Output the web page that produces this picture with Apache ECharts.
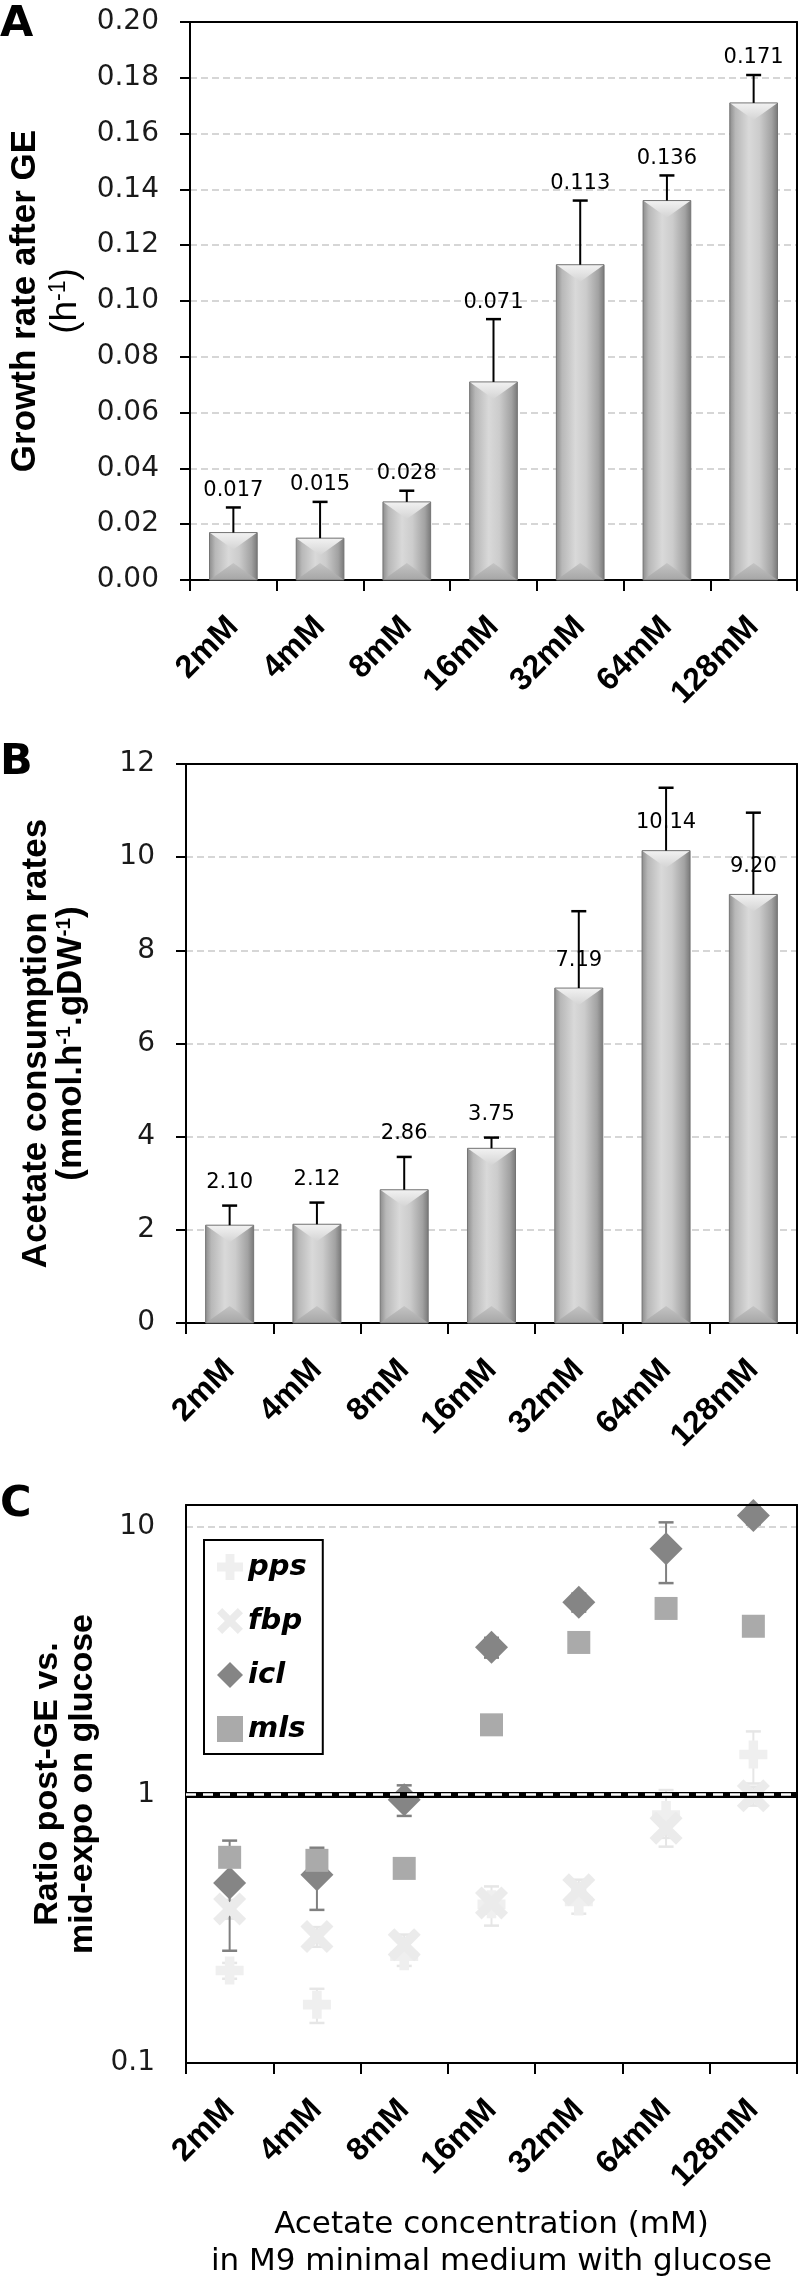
<!DOCTYPE html>
<html>
<head>
<meta charset="utf-8">
<script src="https://cdn.jsdelivr.net/npm/echarts@6/dist/echarts.min.js"></script>
<style>
html,body{margin:0;padding:0;background:#fff;}
#chart{width:800px;height:2281px;}
</style>
</head>
<body>
<div id="chart"></div>
<script>
// ---------------- DATA ----------------
const categories = ['2mM', '4mM', '8mM', '16mM', '32mM', '64mM', '128mM'];

// Panel A: growth rate after GE (h-1)
const growthRate = [0.017, 0.015, 0.028, 0.071, 0.113, 0.136, 0.171];
const growthErr  = [0.009, 0.013, 0.004, 0.0225, 0.023, 0.009, 0.010];

// Panel B: acetate consumption rates (mmol.h-1.gDW-1)
const acetateRate = [2.10, 2.12, 2.86, 3.75, 7.19, 10.14, 9.20];
const acetateErr  = [0.42, 0.465, 0.705, 0.23, 1.65, 1.35, 1.755];
const acetateLabelOnBar = [false, false, false, false, true, true, true];

// Panel C: ratio post-GE vs mid-expo on glucose (log scale)
const ppsRatio = [0.221, 0.165, 0.25, 0.39, 0.40, 0.84, 1.41];
const ppsErr   = [0.015, 0.024, 0.02, 0.065, 0.04, 0.20, 0.31];
const fbpRatio = [0.375, 0.296, 0.276, 0.395, 0.442, 0.75, 0.99];
const fbpErr   = [0.03, 0.025, 0.025, 0.035, 0.04, 0.06, 0.08];
const iclRatio = [0.468, 0.503, 0.958, 3.54, 5.21, 8.24, 10.96];
const iclErr   = [0.206, 0.131, 0.125, 0.30, 0.40, 2.10, 0.80];
const mlsRatio = [0.584, 0.569, 0.531, 1.82, 3.69, 4.94, 4.24];
const mlsErr   = [0.04, 0.04, 0.04, 0.12, 0.25, 0.35, 0.30];

// axis ranges
const growthAxis = { min: 0, max: 0.2, interval: 0.02 };
const acetateAxis = { min: 0, max: 12, interval: 2 };
const ratioAxis = { min: 0.1, max: 12 };

// ---------------- STYLE ----------------
const GRID_LEFT = 186, GRID_W = 611;
const grids = [
  { left: GRID_LEFT, width: GRID_W, top: 22, height: 558 },
  { left: GRID_LEFT, width: GRID_W, top: 764, height: 559 },
  { left: GRID_LEFT, width: GRID_W, top: 1505, height: 558 }
];
const tickFont = { fontFamily: 'DejaVu Sans', fontSize: 28, color: '#1a1a1a' };
const catLabel = { rotate: 45, margin: 42, interval: 0, fontFamily: 'Liberation Sans', fontWeight: 'bold', fontSize: 32, color: '#000' };
const gridLine = { show: true, lineStyle: { color: '#d6d6d6', width: 2, type: [7, 4] } };
const blackLine = { color: '#000', width: 2 };

const plusPath = 'path://M3.3,0H6.7V3.3H10V6.7H6.7V10H3.3V6.7H0V3.3H3.3Z';
const crossPath = 'path://M0,2L2,0L5,3L8,0L10,2L7,5L10,8L8,10L5,7L2,10L0,8L3,5Z';

function cylGrad() {
  return new echarts.graphic.LinearGradient(0, 0, 1, 0, [
    { offset: 0, color: '#8e8e8e' },
    { offset: 0.12, color: '#b8b8b8' },
    { offset: 0.4, color: '#d9d9d9' },
    { offset: 0.62, color: '#cccccc' },
    { offset: 0.88, color: '#a2a2a2' },
    { offset: 1, color: '#7a7a7a' }
  ]);
}

function bevelBar(params, api) {
  const i = api.value(0), v = api.value(1);
  const top = api.coord([i, v]);
  const base = api.coord([i, 0]);
  const bw = api.size([1, 0])[0] * 0.55;
  const cx = top[0];
  const L = cx - bw / 2, R = cx + bw / 2, T = top[1], B = base[1];
  const h = B - T;
  const d = Math.min(17, h / 2);
  return {
    type: 'group',
    children: [
      { type: 'rect', shape: { x: L, y: T, width: bw, height: h }, style: { fill: cylGrad() } },
      { type: 'polygon', shape: { points: [[L, T], [R, T], [cx, T + d]] },
        style: { fill: new echarts.graphic.LinearGradient(0, 0, 0, 1, [{ offset: 0, color: '#f2f2f2' }, { offset: 1, color: '#d4d4d4' }]) } },
      { type: 'polygon', shape: { points: [[L, B], [R, B], [cx, B - d]] },
        style: { fill: new echarts.graphic.LinearGradient(0, 0, 0, 1, [{ offset: 0, color: '#c4c4c4' }, { offset: 1, color: '#a6a6a6' }]) } },
      { type: 'rect', shape: { x: L, y: T, width: bw, height: h }, style: { fill: 'none', stroke: '#747474', lineWidth: 1 } }
    ]
  };
}

function upErrorWithLabel(decimals, labelRule) {
  return function (params, api) {
    const i = api.value(0), v = api.value(1), e = api.value(2);
    const p0 = api.coord([i, v]);
    const p1 = api.coord([i, v + e]);
    const hw = 7.5;
    const ly = labelRule(params.dataIndex, p0, p1);
    return {
      type: 'group',
      children: [
        { type: 'line', shape: { x1: p0[0], y1: p0[1], x2: p1[0], y2: p1[1] }, style: { stroke: '#000', lineWidth: 2 } },
        { type: 'line', shape: { x1: p1[0] - hw, y1: p1[1], x2: p1[0] + hw, y2: p1[1] }, style: { stroke: '#000', lineWidth: 2.5 } },
        { type: 'text', x: p0[0], y: ly,
          style: { text: v.toFixed(decimals), fontFamily: 'DejaVu Sans', fontSize: 21, fill: '#000',
                   align: 'center', verticalAlign: 'middle', textAlign: 'center', textVerticalAlign: 'middle' } }
      ]
    };
  };
}

function errSeriesC(name, vals, errs, color) {
  return {
    type: 'custom', name: name, xAxisIndex: 2, yAxisIndex: 2, silent: true, clip: false,
    data: vals.map((v, i) => [i, v, errs[i]]),
    encode: { x: 0, y: 1 },
    renderItem: function (params, api) {
      const i = api.value(0), v = api.value(1), e = api.value(2);
      const lo = api.coord([i, Math.max(v - e, 0.1)]);
      const hi = api.coord([i, v + e]);
      const hw = 7.5;
      return {
        type: 'group',
        children: [
          { type: 'line', shape: { x1: lo[0], y1: lo[1], x2: hi[0], y2: hi[1] }, style: { stroke: color, lineWidth: 2 } },
          { type: 'line', shape: { x1: lo[0] - hw, y1: lo[1], x2: lo[0] + hw, y2: lo[1] }, style: { stroke: color, lineWidth: 2.5 } },
          { type: 'line', shape: { x1: hi[0] - hw, y1: hi[1], x2: hi[0] + hw, y2: hi[1] }, style: { stroke: color, lineWidth: 2.5 } }
        ]
      };
    }
  };
}

function scatterC(name, vals, symbol, size, color) {
  return {
    type: 'scatter', name: name, xAxisIndex: 2, yAxisIndex: 2, clip: false,
    data: vals.map((v, i) => [categories[i], v]),
    symbol: symbol, symbolSize: size,
    itemStyle: { color: color, opacity: 1 },
    emphasis: { disabled: true }
  };
}

function catAxis(gridIndex, withName) {
  const ax = {
    type: 'category', gridIndex: gridIndex, data: categories, boundaryGap: true,
    axisLine: { show: true, onZero: false, lineStyle: blackLine },
    axisTick: { show: true, length: 11, alignWithLabel: false, lineStyle: blackLine },
    axisLabel: catLabel,
    splitLine: { show: false }
  };
  if (withName) {
    ax.name = 'Acetate concentration (mM)\nin M9 minimal medium with glucose';
    ax.nameLocation = 'middle';
    ax.nameGap = 143;
    ax.nameTextStyle = { fontFamily: 'DejaVu Sans', fontSize: 31, lineHeight: 37, color: '#000' };
  }
  return ax;
}
function frameTop(gridIndex) {
  return { type: 'category', gridIndex: gridIndex, data: categories, position: 'top', z: 5,
    axisLine: { show: true, onZero: false, lineStyle: blackLine },
    axisTick: { show: false }, axisLabel: { show: false }, splitLine: { show: false } };
}
function frameRight(gridIndex) {
  return { type: 'value', gridIndex: gridIndex, position: 'right', min: 0, max: 1, z: 5,
    axisLine: { show: true, onZero: false, lineStyle: blackLine },
    axisTick: { show: false }, axisLabel: { show: false }, splitLine: { show: false } };
}

const titleRich = {
  t: { fontFamily: 'Liberation Sans', fontWeight: 'bold', fontSize: 35, lineHeight: 43, color: '#000' },
  tb: { fontFamily: 'Liberation Sans', fontWeight: 'bold', fontSize: 35, lineHeight: 35, color: '#000' },
  tbs: { fontFamily: 'Liberation Sans', fontWeight: 'bold', fontSize: 21, lineHeight: 20, verticalAlign: 'top', color: '#000' },
  n: { fontFamily: 'Liberation Sans', fontSize: 37, lineHeight: 38, color: '#000' },
  ns: { fontFamily: 'Liberation Sans', fontSize: 23, lineHeight: 22, verticalAlign: 'top', color: '#000' },
  c: { fontFamily: 'Liberation Sans', fontWeight: 'bold', fontSize: 34, lineHeight: 35, color: '#000' }
};

const option = {
  animation: false,
  backgroundColor: '#fff',
  grid: grids,
  legend: {
    data: ['pps', 'fbp', 'icl', 'mls'],
    orient: 'vertical', left: 204, top: 1540,
    backgroundColor: '#fff', borderColor: '#000', borderWidth: 2, borderRadius: 0,
    padding: [11, 16, 9, 13],
    itemWidth: 26, itemHeight: 26, itemGap: 22,
    selectedMode: false,
    textStyle: { fontFamily: 'DejaVu Sans', fontStyle: 'italic', fontWeight: 'bold', fontSize: 29, lineHeight: 32, color: '#000' }
  },
  graphic: [
    { type: 'text', x: 0, y: 25, style: { text: 'A', fontFamily: 'DejaVu Sans', fontWeight: 'bold', fontSize: 43, fill: '#000', align: 'left', verticalAlign: 'middle', textAlign: 'left', textVerticalAlign: 'middle' } },
    { type: 'text', x: 0, y: 763, style: { text: 'B', fontFamily: 'DejaVu Sans', fontWeight: 'bold', fontSize: 43, fill: '#000', align: 'left', verticalAlign: 'middle', textAlign: 'left', textVerticalAlign: 'middle' } },
    { type: 'text', x: 0, y: 1505, style: { text: 'C', fontFamily: 'DejaVu Sans', fontWeight: 'bold', fontSize: 43, fill: '#000', align: 'left', verticalAlign: 'middle', textAlign: 'left', textVerticalAlign: 'middle' } }
  ],
  xAxis: [catAxis(0, false), catAxis(1, false), catAxis(2, true), frameTop(0), frameTop(1), frameTop(2)],
  yAxis: [
    { type: 'value', gridIndex: 0, min: growthAxis.min, max: growthAxis.max, interval: growthAxis.interval,
      axisLine: { show: true, lineStyle: blackLine },
      axisTick: { show: true, length: 10, lineStyle: blackLine },
      axisLabel: Object.assign({ margin: 31, formatter: v => v.toFixed(2) }, tickFont),
      splitLine: gridLine,
      name: '{t|Growth rate after GE}\n{n|(h}{ns|-1}{n|)}', nameLocation: 'middle', nameRotate: 90, nameGap: 105,
      nameTextStyle: { rich: titleRich } },
    { type: 'value', gridIndex: 1, min: acetateAxis.min, max: acetateAxis.max, interval: acetateAxis.interval,
      axisLine: { show: true, lineStyle: blackLine },
      axisTick: { show: true, length: 10, lineStyle: blackLine },
      axisLabel: Object.assign({ margin: 31 }, tickFont),
      splitLine: gridLine,
      name: '{tb|Acetate consumption rates}\n{tb|(mmol.h}{tbs|-1}{tb|.gDW}{tbs|-1}{tb|)}', nameLocation: 'middle', nameRotate: 90, nameGap: 97,
      nameTextStyle: { rich: titleRich } },
    { type: 'log', logBase: 10, gridIndex: 2, min: ratioAxis.min, max: ratioAxis.max,
      axisLine: { show: true, lineStyle: blackLine },
      axisTick: { show: false },
      axisLabel: Object.assign({ margin: 31, formatter: v => (v > 11 ? '' : (v >= 1 ? String(Math.round(v)) : String(Math.round(v * 10) / 10))) }, tickFont),
      splitLine: gridLine,
      name: '{c|Ratio post-GE vs.}\n{c|mid-expo on glucose}', nameLocation: 'middle', nameRotate: 90, nameGap: 80,
      nameTextStyle: { rich: titleRich } },
    frameRight(0), frameRight(1), frameRight(2)
  ],
  series: [
    // Panel A
    { type: 'custom', name: 'growthBars', xAxisIndex: 0, yAxisIndex: 0, silent: true,
      data: growthRate.map((v, i) => [i, v]), encode: { x: 0, y: 1 }, renderItem: bevelBar },
    { type: 'custom', name: 'growthErr', xAxisIndex: 0, yAxisIndex: 0, silent: true,
      data: growthRate.map((v, i) => [i, v, growthErr[i]]), encode: { x: 0, y: 1 },
      renderItem: upErrorWithLabel(3, (idx, p0, p1) => p1[1] - 17) },
    // Panel B
    { type: 'custom', name: 'acetateBars', xAxisIndex: 1, yAxisIndex: 1, silent: true,
      data: acetateRate.map((v, i) => [i, v]), encode: { x: 0, y: 1 }, renderItem: bevelBar },
    { type: 'custom', name: 'acetateErr', xAxisIndex: 1, yAxisIndex: 1, silent: true,
      data: acetateRate.map((v, i) => [i, v, acetateErr[i]]), encode: { x: 0, y: 1 },
      renderItem: upErrorWithLabel(2, (idx, p0, p1) => acetateLabelOnBar[idx] ? p0[1] - 28 : p1[1] - 23) },
    // Panel C reference line at 1
    { type: 'line', name: 'ref', xAxisIndex: 2, yAxisIndex: 2, silent: true, symbol: 'none',
      data: categories.map(c => [c, 1]), lineStyle: { opacity: 0 },
      markLine: { silent: true, symbol: ['none', 'none'], label: { show: false }, animation: false,
        data: [
          { yAxis: 1, lineStyle: { color: '#000', width: 6, type: 'solid' } },
          { yAxis: 1, lineStyle: { color: '#fff', width: 2.5, type: [10, 7] } }
        ] } },
    errSeriesC('ppsErr', ppsRatio, ppsErr, '#e6e6e6'),
    scatterC('pps', ppsRatio, plusPath, 28, '#efefef'),
    errSeriesC('fbpErr', fbpRatio, fbpErr, '#e6e6e6'),
    scatterC('fbp', fbpRatio, crossPath, 33, '#ebebeb'),
    errSeriesC('iclErr', iclRatio, iclErr, '#808080'),
    scatterC('icl', iclRatio, 'diamond', 33, '#858585'),
    errSeriesC('mlsErr', mlsRatio, mlsErr, '#a8a8a8'),
    scatterC('mls', mlsRatio, 'rect', 23, '#aaaaaa')
  ]
};

const chart = echarts.init(document.getElementById('chart'), null, { renderer: 'canvas' });
chart.setOption(option);
</script>
</body>
</html>
